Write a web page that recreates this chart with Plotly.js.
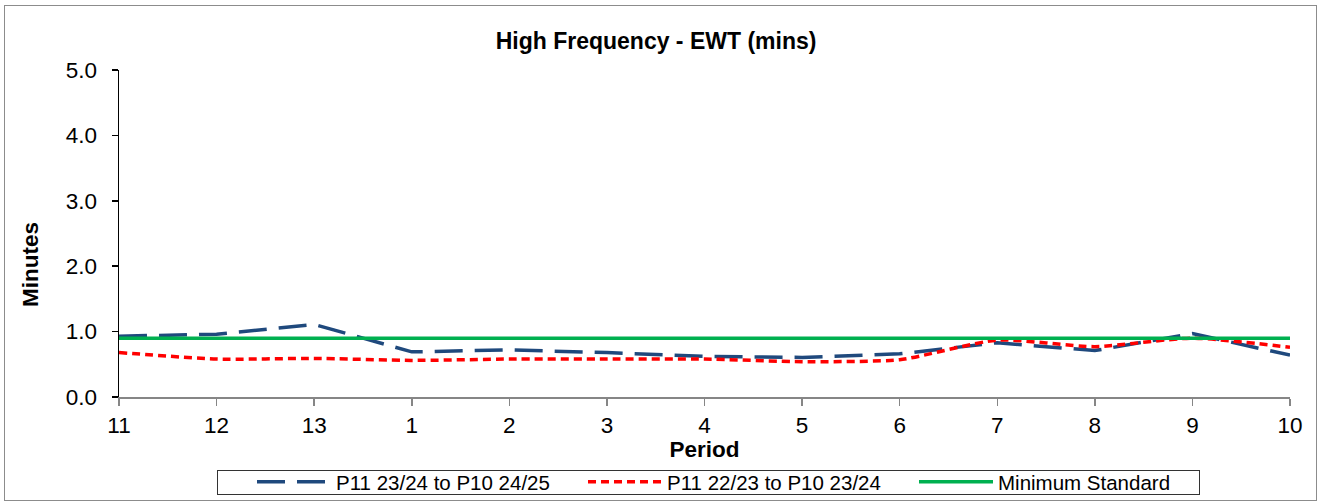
<!DOCTYPE html>
<html>
<head>
<meta charset="utf-8">
<script src="https://cdn.plot.ly/plotly-3.0.1.min.js"></script>
<style>
html,body{margin:0;padding:0;background:#fff;}
#frame{position:absolute;left:4px;top:5px;width:1313px;height:496px;border:1px solid #8c8c8c;box-sizing:border-box;}
#legbox{position:absolute;left:217px;top:470px;width:983px;height:25px;border:1px solid #333;box-sizing:border-box;}
#chart{position:absolute;left:0;top:0;width:1320px;height:501px;}
</style>
</head>
<body>
<div id="frame"></div>
<div id="legbox"></div>
<div id="chart"></div>
<script>
const periods = ["11","12","13","1","2","3","4","5","6","7","8","9","10"];
const series2425 = [0.93,0.96,1.11,0.69,0.72,0.68,0.62,0.605,0.66,0.83,0.71,0.97,0.64];
const series2324 = [0.68,0.58,0.59,0.56,0.58,0.58,0.58,0.54,0.57,0.87,0.77,0.90,0.76];
const minStandard = [0.9,0.9,0.9,0.9,0.9,0.9,0.9,0.9,0.9,0.9,0.9,0.9,0.9];
const names = ["P11 23/24 to P10 24/25","P11 22/23 to P10 23/24","Minimum Standard"];

const traces = [
  {x: periods, y: series2425, name: names[0], type: 'scatter', mode: 'lines',
   line: {color: '#1F497D', width: 3.5, dash: '28px,12px'}},
  {x: periods, y: series2324, name: names[1], type: 'scatter', mode: 'lines',
   line: {color: '#FF0000', width: 3.5, dash: '8px,5px', shape: 'spline', smoothing: 0.6}},
  {x: periods, y: minStandard, name: names[2], type: 'scatter', mode: 'lines',
   line: {color: '#00B050', width: 3.5}}
];

const layout = {
  width: 1320, height: 501,
  margin: {l: 119, r: 30, t: 70, b: 104},
  paper_bgcolor: 'rgba(0,0,0,0)', plot_bgcolor: 'rgba(0,0,0,0)',
  font: {family: 'Liberation Sans, Arial, sans-serif', color: '#000'},
  title: {text: '<b>High Frequency - EWT (mins)</b>', font: {size: 23, color: '#000'},
          x: 0.497, xref: 'container', xanchor: 'center', y: 0.918, yref: 'container', yanchor: 'middle'},
  xaxis: {type: 'category', range: [0, 12], showline: true, linecolor: '#868686', linewidth: 1.5,
          ticks: 'outside', ticklen: 7, tickcolor: '#868686', tickwidth: 1.5, ticklabelstandoff: 0,
          showgrid: false, zeroline: false, tickfont: {size: 22.5},
          title: {text: '<b>Period</b>', font: {size: 22.5}, standoff: 0}},
  yaxis: {range: [0, 5], dtick: 1, tickformat: '.1f', showline: true, linecolor: '#000', linewidth: 1.5,
          ticks: 'outside', ticklen: 6, tickcolor: '#000', tickwidth: 1.5, ticklabelstandoff: 10,
          showgrid: false, zeroline: false, tickfont: {size: 22.5}},
  annotations: [
    {text: '<b>Minutes</b>', xref: 'paper', yref: 'paper', x: (30 - 119) / 1171, y: (397 - 265) / 327,
     xanchor: 'center', yanchor: 'middle', textangle: -90, showarrow: false, font: {size: 22.5, color: '#000'}}
  ],
  showlegend: true,
  legend: {orientation: 'h', x: 252/1320, xref: 'container', xanchor: 'left', y: 1 - 482/501, yref: 'container', yanchor: 'middle',
           borderwidth: 0, bgcolor: 'rgba(0,0,0,0)', font: {size: 20.5, color: '#000'}, itemwidth: 74,
           entrywidth: 242, traceorder: 'normal', tracegroupgap: 0}
};

Plotly.newPlot('chart', traces, layout, {displayModeBar: false, staticPlot: true});
</script>
</body>
</html>
